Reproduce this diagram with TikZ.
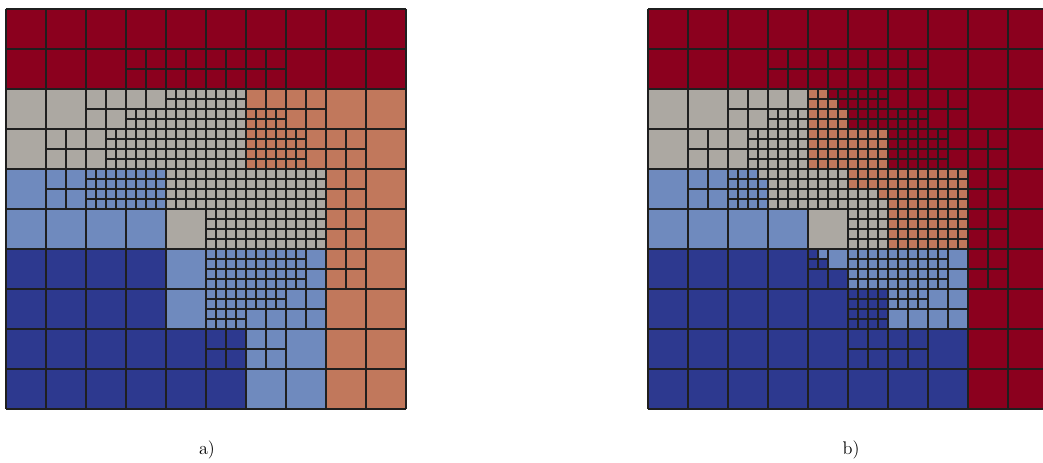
\documentclass[tikz,border=0pt]{standalone}
\usepackage{tikz}
\usetikzlibrary{positioning}
\definecolor{CellRed}{RGB}{139,0,30}
\definecolor{CellOrange}{RGB}{193,120,92}
\definecolor{CellGray}{RGB}{172,168,162}
\definecolor{CellLight}{RGB}{111,138,190}
\definecolor{CellDark}{RGB}{45,57,143}
\tikzset{
  meshline/.style={line width=0.8pt,draw=black!88},
  coarsegrid/.style={meshline,step=1},
  halfgrid/.style={meshline,step=0.5},
  quartergrid/.style={meshline,step=0.25},
  caption/.style={font=\fontsize{13}{15}\selectfont}
}

\begin{document}
\begin{tikzpicture}
\clip (0,0) rectangle (26.075,11.55);
\begin{scope}[shift={(0.15,1.325)}]
\fill[CellRed] (0,8) rectangle (10,10);
\fill[CellGray] (0,6) rectangle (6,8) (4,4) rectangle (8,6);
\fill[CellOrange] (6,6) rectangle (10,8) (8,0) rectangle (10,6);
\fill[CellLight] (0,4) rectangle (4,6) (4,2) rectangle (8,4) (6,0) rectangle (8,2);
\fill[CellDark] (0,0) rectangle (4,4) (4,0) rectangle (6,2);
\draw[coarsegrid] (0,0) grid (10,10);
\draw[halfgrid] (3,8) grid (7,9) (2,7) grid (8,8) (1,5) grid (9,7)
  (5,3) grid (9,5) (5,2) grid (8,3) (5,1) grid (7,2);
\draw[quartergrid] (3,7) grid (4,7.5) (4,7) grid (6,8) (6,7) grid (7,7.5)
  (2.5,6) grid (7.5,7) (2,5) grid (8,6) (5,4) grid (8,5) (5,3) grid (7.5,4)
  (5,2) grid (6,3) (6,2.5) grid (7,3);
\end{scope}
\begin{scope}[shift={(16.2,1.325)}]
\fill[CellRed] (0,0) rectangle (10,10);
\fill[CellDark] (0,0) rectangle (8,4);
\fill[CellLight] (0,4) rectangle (4,6) (4.25,3.75) rectangle (4.5,4)
  (4.5,3.5) rectangle (5,4) (5,3) rectangle (8,4) (6,2) rectangle (8,3);
\fill[CellGray] (0,6) rectangle (4,8) (2.75,5.75) rectangle (3,6)
  (3,5) rectangle (5,6) (4,4) rectangle (6,5) (5,5.25) rectangle (5.75,5.5)
  (5,5) rectangle (6,5.25);
\fill[CellOrange] (4,7.75) rectangle (4.5,8) (4,7.5) rectangle (4.75,7.75)
  (4,7) rectangle (5,7.5) (4,6) rectangle (6,7) (5,5.5) rectangle (8,6)
  (5.75,5.25) rectangle (8,5.5) (6,4) rectangle (8,5.25);
\draw[coarsegrid] (0,0) grid (10,10);
\draw[halfgrid] (3,8) grid (7,9) (2,7) grid (8,8) (1,5) grid (9,7)
  (5,4) grid (9,5) (4,3) grid (9,4) (5,2) grid (8,3) (5,1) grid (7,2);
\draw[quartergrid] (3,7) grid (4,7.5) (4,7) grid (6,8) (6,7) grid (7,7.5)
  (2.5,6) grid (7.5,7) (2,5) grid (8,6) (5,4) grid (8,5) (4,3.5) grid (4.5,4)
  (5,3) grid (7.5,4) (5,2) grid (6,3) (6,2.5) grid (7,3);
\end{scope}
\node[caption] (laba) at (5.175,0.29) {a)};
\node[caption] (labb) at (21.275,0.29) {b)};
\end{tikzpicture}
\end{document}
